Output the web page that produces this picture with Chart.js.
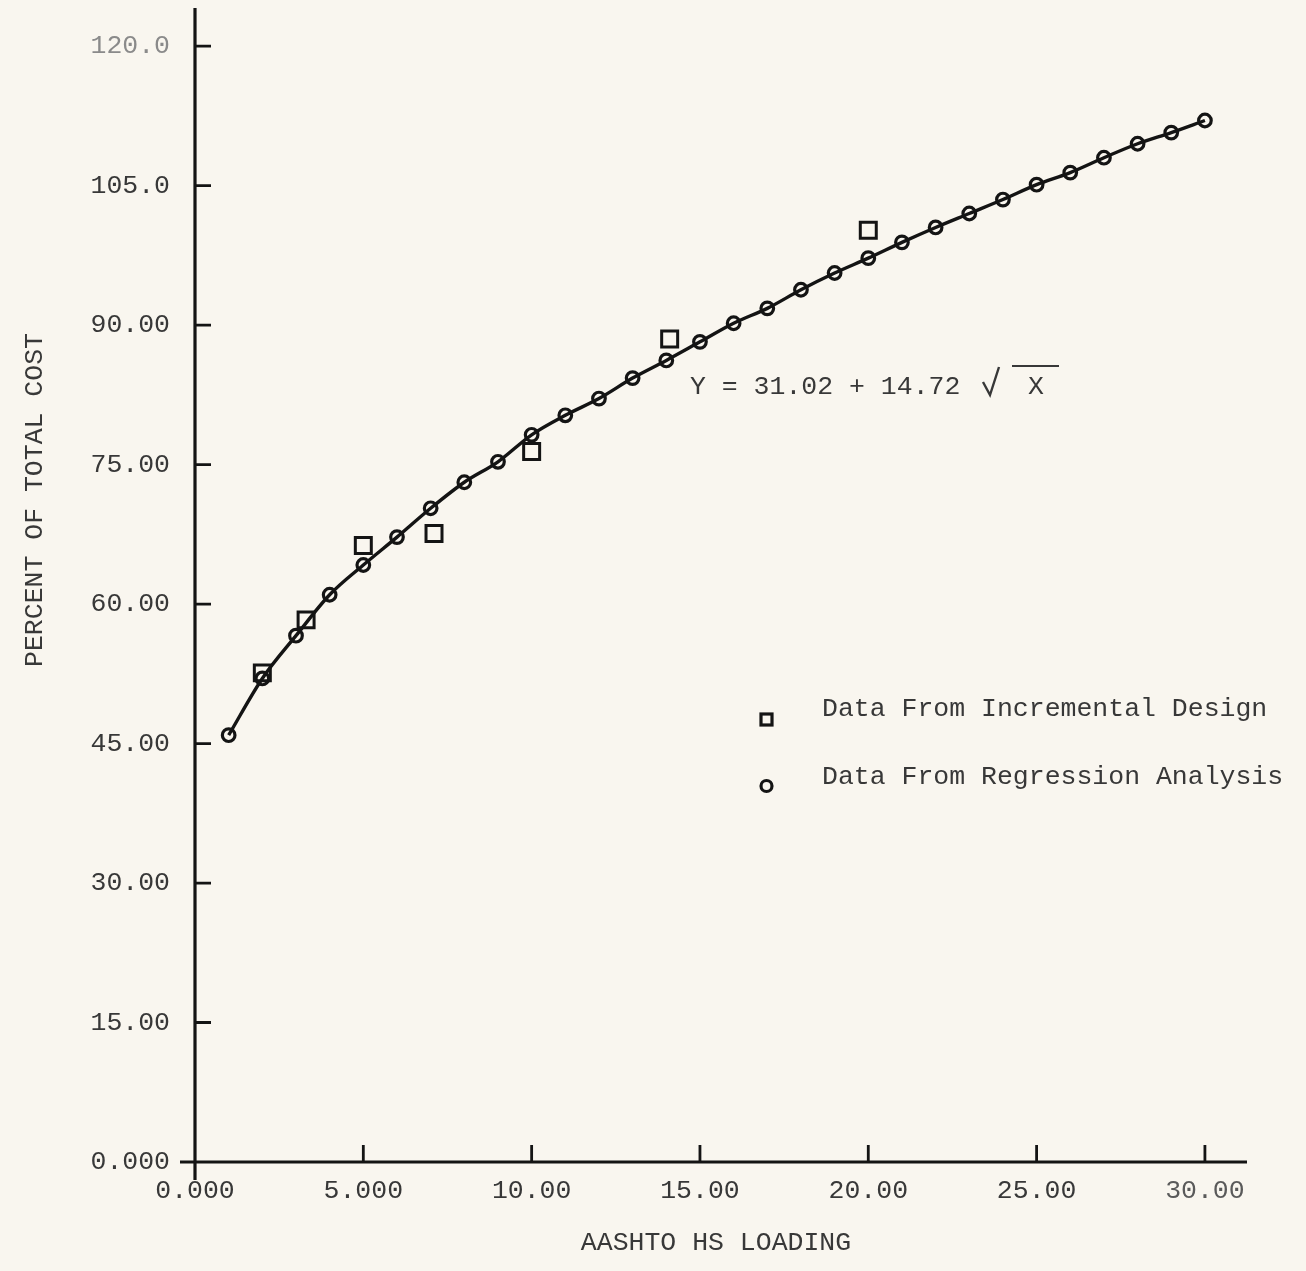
<!DOCTYPE html>
<html>
<head>
<meta charset="utf-8">
<script src="https://cdn.jsdelivr.net/npm/chart.js@4/dist/chart.umd.min.js"></script>
<style>
  html, body { margin: 0; padding: 0; background: #f9f6ef; }
  #wrap { position: relative; width: 1306px; height: 1271px; }
</style>
</head>
<body>
<div id="wrap"><canvas id="chart" width="1306" height="1271"></canvas></div>
<script>
// HS loading (x) and percent of total cost (y)
const loading = [1, 2, 3, 4, 5, 6, 7, 8, 9, 10, 11, 12, 13, 14, 15,
                 16, 17, 18, 19, 20, 21, 22, 23, 24, 25, 26, 27, 28, 29, 30];
const regressionPct = [45.9, 52.0, 56.6, 61.0, 64.2, 67.2, 70.3, 73.1, 75.3, 78.2,
                       80.3, 82.1, 84.3, 86.2, 88.2, 90.2, 91.8, 93.8, 95.6, 97.2,
                       98.9, 100.5, 102.0, 103.5, 105.1, 106.4, 108.0, 109.5, 110.7, 112.0];

const incrementalLoading = [2.0, 3.3, 5.0, 7.1, 10.0, 14.1, 20.0];
const incrementalPct = [52.6, 58.3, 66.3, 67.6, 76.4, 88.5, 100.2];

const xTickValues = [0, 5, 10, 15, 20, 25, 30];
const xTickLabels = ["0.000", "5.000", "10.00", "15.00", "20.00", "25.00", "30.00"];
const yTickValues = [0, 15, 30, 45, 60, 75, 90, 105, 120];
const yTickLabels = ["0.000", "15.00", "30.00", "45.00", "60.00", "75.00", "90.00", "105.0", "120.0"];

const xTitle = "AASHTO HS LOADING";
const yTitle = "PERCENT OF TOTAL COST";
const legendLabels = ["Data From Incremental Design", "Data From Regression Analysis"];
const equationLeft = "Y = 31.02 + 14.72";

const FAMILY = "'Liberation Mono', 'Courier New', monospace";
const FONT = "26.5px " + FAMILY;
const INK = "#141414";
const TEXT = "#383838";
const PAPER = "#f9f6ef";

const paperDecor = {
  id: 'paperDecor',
  beforeDraw(chart) {
    const ctx = chart.ctx;
    ctx.save();
    ctx.fillStyle = PAPER;
    ctx.fillRect(0, 0, chart.width, chart.height);
    ctx.restore();
  },
  beforeDatasetsDraw(chart) {
    const ctx = chart.ctx;
    const xs = chart.scales.x, ys = chart.scales.y;
    const x0 = xs.getPixelForValue(0), y0 = ys.getPixelForValue(0);
    const area = chart.chartArea;
    ctx.save();
    ctx.strokeStyle = INK;
    ctx.lineWidth = 3.2;
    ctx.lineCap = 'butt';
    // axes
    ctx.beginPath();
    ctx.moveTo(x0, area.top);
    ctx.lineTo(x0, y0 + 18);
    ctx.moveTo(x0 - 15, y0);
    ctx.lineTo(area.right, y0);
    ctx.stroke();
    // inward tick marks
    ctx.lineWidth = 2.8;
    ctx.beginPath();
    yTickValues.forEach(v => {
      if (v === 0) return;
      const p = ys.getPixelForValue(v);
      ctx.moveTo(x0, p);
      ctx.lineTo(x0 + 16, p);
    });
    xTickValues.forEach(v => {
      if (v === 0) return;
      const p = xs.getPixelForValue(v);
      ctx.moveTo(p, y0);
      ctx.lineTo(p, y0 - 17);
    });
    ctx.stroke();
    ctx.restore();
  },
  afterDraw(chart) {
    const ctx = chart.ctx;
    ctx.save();
    ctx.font = FONT;
    ctx.fillStyle = TEXT;
    ctx.textBaseline = 'middle';

    // axis titles
    ctx.textAlign = 'center';
    ctx.fillText(xTitle, 716, 1243);
    ctx.save();
    ctx.translate(35, 500);
    ctx.rotate(-Math.PI / 2);
    ctx.fillText(yTitle, 0, 0);
    ctx.restore();

    // fitted equation: Y = a + b sqrt(X)
    ctx.textAlign = 'left';
    ctx.fillText(equationLeft, 690, 387);
    ctx.fillText("X", 1028, 387);
    ctx.strokeStyle = TEXT;
    ctx.lineWidth = 2.4;
    ctx.lineJoin = 'miter';
    ctx.beginPath();
    ctx.moveTo(983, 382);
    ctx.lineTo(990, 395);
    ctx.lineTo(999, 367);
    ctx.stroke();
    ctx.lineWidth = 2;
    ctx.beginPath();
    ctx.moveTo(1012, 366);
    ctx.lineTo(1059, 366);
    ctx.stroke();

    // legend
    ctx.fillText(legendLabels[0], 822, 709);
    ctx.fillText(legendLabels[1], 822, 777);
    ctx.strokeStyle = INK;
    ctx.lineWidth = 3.2;
    ctx.strokeRect(761, 714, 11, 11);
    ctx.beginPath();
    ctx.arc(766.5, 786, 5.5, 0, Math.PI * 2);
    ctx.stroke();
    ctx.restore();
  }
};

new Chart(document.getElementById('chart'), {
  type: 'scatter',
  data: {
    datasets: [
      {
        label: legendLabels[1],
        data: loading.map((x, i) => ({ x, y: regressionPct[i] })),
        showLine: true,
        cubicInterpolationMode: 'monotone',
        borderColor: INK,
        borderWidth: 3.4,
        pointStyle: 'circle',
        pointRadius: 6.3,
        pointBorderWidth: 3.2,
        pointBorderColor: INK,
        pointBackgroundColor: 'rgba(0,0,0,0)',
        order: 2
      },
      {
        label: legendLabels[0],
        data: incrementalLoading.map((x, i) => ({ x, y: incrementalPct[i] })),
        showLine: false,
        pointStyle: 'rect',
        pointRadius: 11.3,
        pointBorderWidth: 3,
        pointBorderColor: INK,
        pointBackgroundColor: 'rgba(0,0,0,0)',
        order: 1
      }
    ]
  },
  options: {
    responsive: false,
    animation: false,
    devicePixelRatio: 1,
    layout: { autoPadding: false, padding: { top: 8, right: 59, left: 0, bottom: 0 } },
    plugins: {
      legend: { display: false },
      tooltip: { enabled: false }
    },
    scales: {
      x: {
        type: 'linear',
        min: 0,
        max: 31.25,
        afterBuildTicks: s => { s.ticks = xTickValues.map(v => ({ value: v })); },
        afterFit: s => { s.height = 109; s.paddingLeft = 0; s.paddingRight = 0; },
        grid: { display: false, drawTicks: false },
        border: { display: false },
        ticks: {
          autoSkip: false,
          maxRotation: 0,
          padding: 13,
          font: { family: FAMILY, size: 26.5 },
          color: ctx => ctx.index === xTickValues.length - 1 ? '#5a5a5a' : TEXT,
          callback: v => xTickLabels[xTickValues.indexOf(v)]
        }
      },
      y: {
        type: 'linear',
        min: 0,
        max: 124.1,
        afterBuildTicks: s => { s.ticks = yTickValues.map(v => ({ value: v })); },
        afterFit: s => { s.width = 195; s.paddingTop = 0; s.paddingBottom = 0; },
        grid: { display: false, drawTicks: false },
        border: { display: false },
        ticks: {
          autoSkip: false,
          padding: 25,
          font: { family: FAMILY, size: 26.5 },
          color: ctx => ctx.index === yTickValues.length - 1 ? '#8a8a8a' : TEXT,
          callback: v => yTickLabels[yTickValues.indexOf(v)]
        }
      }
    }
  },
  plugins: [paperDecor]
});
</script>
</body>
</html>
